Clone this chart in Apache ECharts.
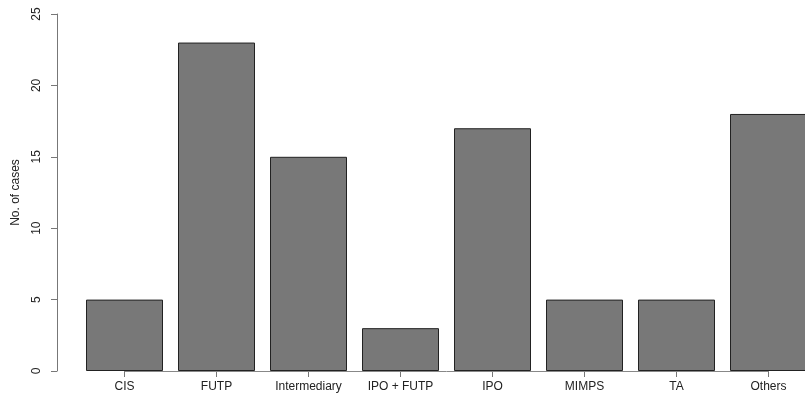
<!DOCTYPE html>
<html><head><meta charset="utf-8">
<script src="https://cdn.jsdelivr.net/npm/echarts@6/dist/echarts.min.js"></script>
<style>html,body{margin:0;padding:0;background:#fff}#c{width:805px;height:396px}</style>
</head><body><div id="c"></div>
<script>
const categories = ["CIS","FUTP","Intermediary","IPO + FUTP","IPO","MIMPS","TA","Others"];
const cases = [5,23,15,3,17,5,5,18];
const yTicks = {min:0, max:25, interval:5};
const yTitle = "No. of cases";

const chart = echarts.init(document.getElementById('c'), null, {renderer:'canvas'});
const font = "Liberation Sans, Arial, sans-serif";
chart.setOption({
  animation:false,
  grid:{left:78.5, top:14, width:736, height:357, outerBoundsMode:'none', containLabel:false},
  xAxis:{
    type:'category', data:categories,
    axisLine:{show:false},
    axisTick:{show:true, alignWithLabel:true, length:6, lineStyle:{color:'#777'}},
    axisLabel:{color:'#222', fontSize:12, fontFamily:font, margin:10, interval:0}
  },
  yAxis:{
    type:'value', min:yTicks.min, max:yTicks.max, interval:yTicks.interval,
    offset:21.5,
    name:yTitle, nameLocation:'middle', nameGap:35, nameRotate:90,
    nameTextStyle:{color:'#222', fontSize:12, fontFamily:font},
    axisLine:{show:true, lineStyle:{color:'#777', width:1}},
    axisTick:{show:true, length:6, lineStyle:{color:'#777'}},
    axisLabel:{color:'#222', fontSize:12, fontFamily:font, rotate:90, margin:14},
    splitLine:{show:false}
  },
  series:[{
    type:'bar', data:cases, barWidth:77, z:3,
    itemStyle:{color:'#787878', borderColor:'#222', borderWidth:1},
    markLine:{
      silent:true, symbol:['none','none'], label:{show:false}, z:1,
      lineStyle:{color:'#888', width:1, type:'solid'},
      data:[[{coord:[categories[0],0]},{coord:[categories[categories.length-1],0]}]]
    }
  }]
});
</script></body></html>
